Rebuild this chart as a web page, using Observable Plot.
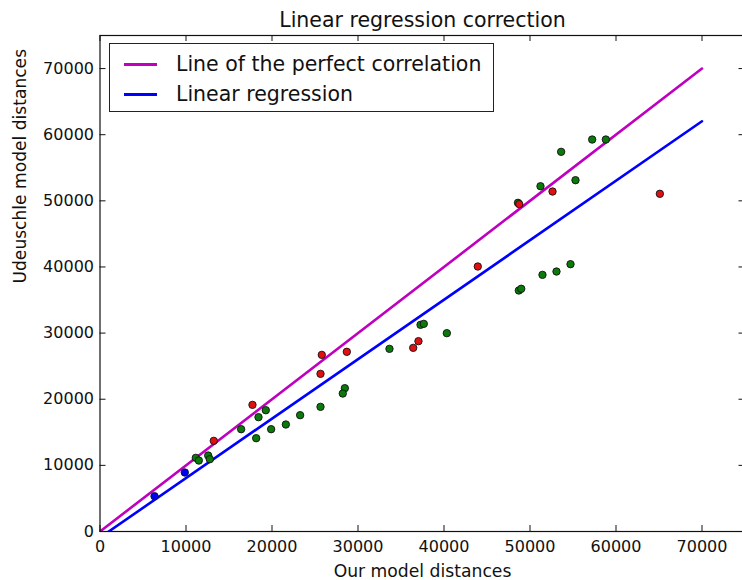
<!DOCTYPE html>
<html>
<head>
<meta charset="utf-8">
<script src="https://cdn.jsdelivr.net/npm/d3@7"></script>
<script src="https://cdn.jsdelivr.net/npm/@observablehq/plot@0.6"></script>
<style>
  html, body { margin: 0; padding: 0; background: #fff; overflow: hidden; }
  #wrap { position: relative; width: 742px; height: 580px; overflow: hidden; font-family: "DejaVu Sans", sans-serif; }
  #legend { position: absolute; left: 109px; top: 43px; width: 385px; height: 69px; border: 1px solid #222; background: #fff; box-sizing: border-box; }
  .sw { position: absolute; left: 14px; width: 33px; height: 3px; }
  .lt { position: absolute; left: 66px; font-size: 20.5px; color: #111; white-space: nowrap; line-height: 1; }
</style>
</head>
<body>
<div id="wrap"></div>
<script>
// ---- data ----
const title = "Linear regression correction";
const xLabel = "Our model distances";
const yLabel = "Udeuschle model distances";
const tickValues = [0, 10000, 20000, 30000, 40000, 50000, 60000, 70000];

const greenX = [11140, 11490, 12580, 12770, 16410, 18430, 19280, 18160, 19900, 21610, 23270, 25640, 28470, 28230, 33660, 37270, 37650, 40330, 57230, 58820, 53620, 51220, 55290, 48600, 48700, 48980, 51450, 53080, 54710];
const greenY = [11140, 10730, 11490, 10930, 15470, 17290, 18340, 14110, 15470, 16180, 17590, 18850, 21670, 20860, 27620, 31250, 31400, 29990, 59270, 59270, 57410, 52210, 53120, 49700, 36440, 36700, 38810, 39310, 40420];
const redX = [13230, 17730, 25640, 25790, 28700, 36420, 37030, 52620, 48750, 65100, 43930];
const redY = [13710, 19150, 23840, 26710, 27170, 27770, 28780, 51410, 49500, 51060, 40070];
const blueX = [6340, 9860];
const blueY = [5340, 8920];

const perfectX = [0, 70000];
const perfectY = [0, 70000];
const regX = [0, 70000];
const regY = [-920, 62030];

const legendNames = ["Line of the perfect correlation", "Linear regression"];
const legendColors = ["#bf00bf", "#0000ff"];

// ---- build ----
const W = 742, H = 580;
const mL = 99.5, mT = 35, mB = 49, mR = -2.5;
const innerW = W - mL - mR, innerH = H - mT - mB;
const tickLen = 6;

const pts = (xs, ys) => xs.map((x, i) => ({x, y: ys[i]}));
const green = pts(greenX, greenY), red = pts(redX, redY), blue = pts(blueX, blueY);
const perfect = pts(perfectX, perfectY), reg = pts(regX, regY);

const font = "DejaVu Sans";

const chart = Plot.plot({
  width: W, height: H,
  marginLeft: mL, marginRight: mR, marginTop: mT, marginBottom: mB,
  style: {fontFamily: font, background: "#fff", overflow: "visible"},
  x: {domain: [0, 75000]},
  y: {domain: [0, 75000]},
  marks: [
    Plot.line(perfect, {x: "x", y: "y", stroke: legendColors[0], strokeWidth: 2.6, clip: true}),
    Plot.line(reg, {x: "x", y: "y", stroke: legendColors[1], strokeWidth: 2.6, clip: true}),
    Plot.dot(green, {x: "x", y: "y", r: 3.7, fill: "#0a7a0a", stroke: "#111", strokeWidth: 0.9}),
    Plot.dot(blue, {x: "x", y: "y", r: 3.7, fill: "#0000ee", stroke: "#111", strokeWidth: 0.9}),
    Plot.dot(red, {x: "x", y: "y", r: 3.7, fill: "#e01010", stroke: "#111", strokeWidth: 0.9}),
    Plot.frame({stroke: "#111", strokeWidth: 1.2}),
    // inner ticks (matplotlib classic style)
    Plot.tickX(tickValues, {x: d => d, stroke: "#111", insetTop: innerH - tickLen}),
    Plot.tickX(tickValues, {x: d => d, stroke: "#111", insetBottom: innerH - tickLen}),
    Plot.tickY(tickValues, {y: d => d, stroke: "#111", insetRight: innerW - tickLen}),
    Plot.tickY(tickValues, {y: d => d, stroke: "#111", insetLeft: innerW - tickLen}),
    Plot.axisX(tickValues, {anchor: "bottom", tickSize: 0, tickPadding: 9, fontSize: 16, fill: "#111", tickFormat: d => String(d), label: null}),
    Plot.axisY(tickValues, {anchor: "left", tickSize: 0, tickPadding: 6, fontSize: 16, fill: "#111", tickFormat: d => String(d), label: null}),
    Plot.text([title], {frameAnchor: "top", dy: -15, fontSize: 20.5, fill: "#111", lineAnchor: "middle"}),
    Plot.text([xLabel], {frameAnchor: "bottom", dy: 39.5, fontSize: 17.2, fill: "#111", lineAnchor: "middle"}),
    Plot.text([yLabel], {frameAnchor: "left", dx: -79, rotate: -90, fontSize: 17.1, fill: "#111", lineAnchor: "middle"})
  ]
});

const wrap = document.getElementById("wrap");
wrap.appendChild(chart);

// legend
const legend = document.createElement("div");
legend.id = "legend";
legendNames.forEach((name, i) => {
  const sw = document.createElement("div");
  sw.className = "sw";
  sw.style.background = legendColors[i];
  sw.style.top = (18.5 + i * 30) + "px";
  legend.appendChild(sw);
  const t = document.createElement("div");
  t.className = "lt";
  t.textContent = name;
  t.style.top = (10 + i * 30) + "px";
  legend.appendChild(t);
});
wrap.appendChild(legend);
</script>
</body>
</html>
